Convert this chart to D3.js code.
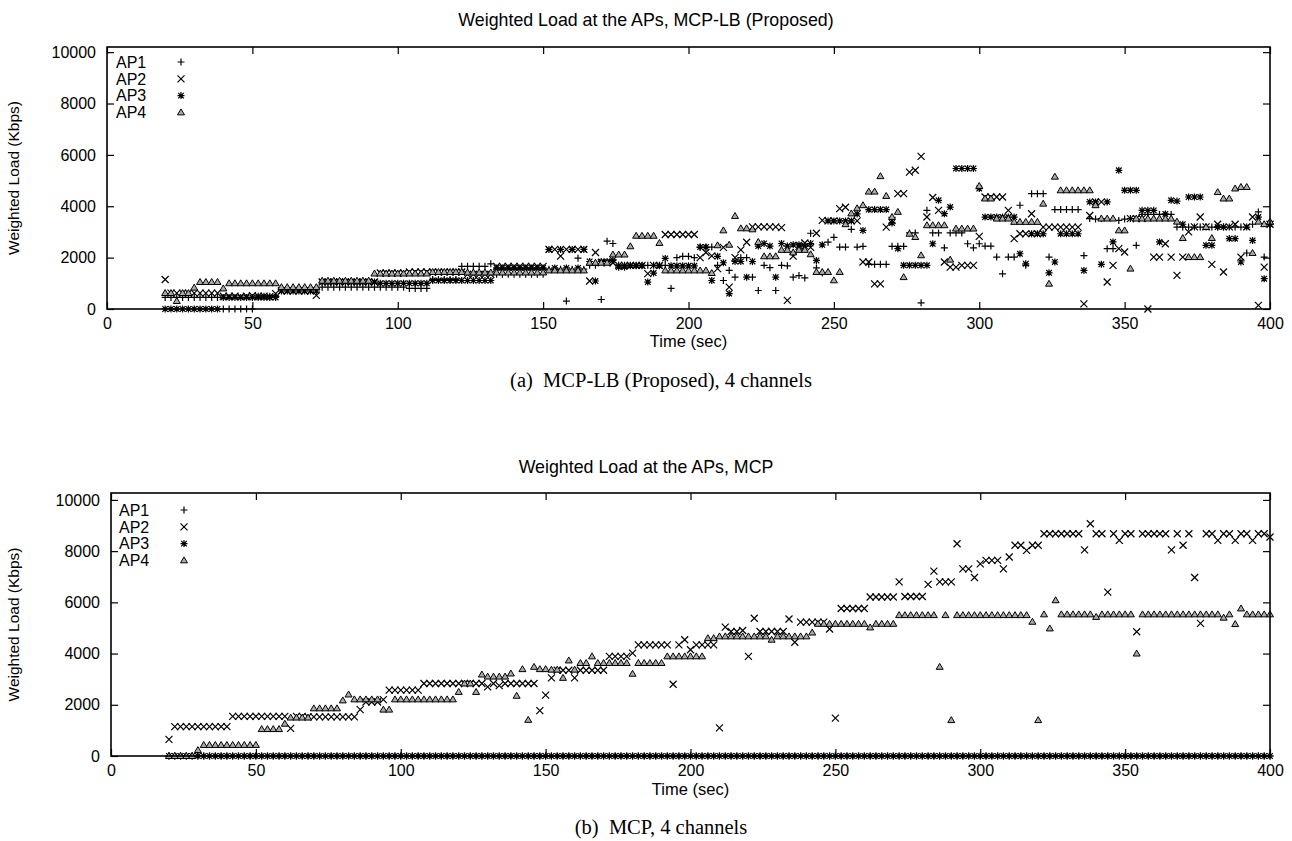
<!DOCTYPE html>
<html>
<head>
<meta charset="utf-8">
<script src="https://cdn.jsdelivr.net/npm/d3@7/dist/d3.min.js"></script>
<style>
  body { margin: 0; background: #fff; }
  svg text { font-family: "Liberation Sans", Arial, sans-serif; fill: #000; }
  svg text.caption { font-family: "Liberation Serif", "Times New Roman", serif; white-space: pre; }
</style>
</head>
<body>
<svg id="chart" width="1292" height="841"></svg>
<script>

// one reading every 2 s, first reading at t = 20 s
var t0 = 20, dt = 2;

var xTicks = [0, 50, 100, 150, 200, 250, 300, 350, 400];
var yTicks = [0, 2000, 4000, 6000, 8000, 10000];
var apNames = ["AP1", "AP2", "AP3", "AP4"];

// (a) MCP-LB (Proposed) -- weighted load in Kbps
var lbAP1 = [
  450,450,450,450,450,450,450,450,450,450,
  0,0,0,0,0,0,500,500,500,500,
  800,800,800,800,800,800,800,850,850,850,
  850,850,850,850,850,850,850,850,850,850,
  850,850,800,800,800,800,1150,1150,1150,1150,
  1150,1660,1660,1660,1660,1660,1760,1350,1350,1350,
  1350,1350,1350,1350,1350,1350,1550,1550,1550,310,
  1550,1980,1550,1700,1700,370,2640,2550,1700,1700,
  1700,1700,1700,1700,1700,1700,1700,800,2000,2050,
  2050,2000,2400,2400,2410,1700,1110,1500,1240,2000,
  2000,1240,720,1700,1610,720,1700,1680,1240,1300,
  1210,2950,1600,1400,2600,2790,2410,2410,3100,2410,
  2440,1740,1740,1740,1740,2440,2440,2440,2960,2960,
  240,3840,2960,2960,2380,2960,2960,2960,2540,2380,
  2540,2450,2450,2020,1370,2020,2020,4040,1700,4490,
  4490,4490,2020,3870,3870,3870,3870,3870,2080,3520,
  3500,3520,2350,2350,3450,3500,3520,2480,3680,3680,
  3680,3680,3680,3680,3190,3190,3190,3190,3190,3190,
  3190,3190,3190,3190,3190,3190,2180,3300,3780,2020,
  3300
];
var lbAP2 = [
  1150,620,620,620,620,620,620,620,620,620,
  500,500,500,480,500,520,500,500,480,600,
  700,700,700,700,700,700,530,1050,1050,1050,
  1050,1050,1050,1050,1050,1050,1050,1400,1400,1400,
  1400,1400,1440,1440,1440,1440,1440,1440,1440,1440,
  1440,1440,1350,1350,1350,1350,1350,1660,1660,1660,
  1660,1660,1660,1660,1660,1660,2320,2320,2060,2320,
  2320,2320,2320,1090,2200,1800,1800,1800,1700,1700,
  1700,1700,1700,1380,1700,1700,2900,2900,2900,2900,
  2900,2900,2000,2200,2070,1570,2400,850,2000,2300,
  2600,3200,3200,3200,3200,3200,3170,335,2060,2440,
  2570,2400,2950,3450,3430,3430,3910,3960,3430,3430,
  1830,1830,980,980,3190,3450,4490,4490,5330,5400,
  5940,3580,4340,3840,1830,1630,1630,1700,1700,1700,
  2830,4360,4360,4360,4360,3840,2740,2930,2930,3710,
  2930,3190,3190,3190,3190,3190,3190,3190,200,3640,
  4170,4170,1050,1700,2350,2220,3520,3520,3520,0,
  2020,2020,2540,2020,1310,2020,3000,3200,3580,3200,
  1740,3300,1440,3200,3300,2020,3200,3580,140,1630,
  3300
];
var lbAP3 = [
  0,0,0,0,0,0,0,0,0,0,
  450,450,450,450,450,450,450,450,450,450,
  700,700,700,700,700,700,700,1050,1050,1050,
  1050,1050,1050,1050,1050,1050,1050,1000,1000,1000,
  1000,1000,1000,1000,1000,1000,1110,1110,1110,1110,
  1110,1110,1110,1110,1110,1110,1110,1600,1600,1600,
  1600,1600,1600,1600,1600,1600,2320,1600,2320,1600,
  2320,1600,2320,1850,1090,1850,1850,1900,1630,1630,
  1680,1680,1680,1050,1400,1680,1970,1680,1680,1680,
  1680,1680,2410,2410,1110,2050,1800,600,1850,1850,
  1240,1850,2450,2550,2450,1240,2550,2450,2500,2500,
  2450,2550,1890,2500,3430,3430,3430,3430,3430,3700,
  3060,3870,3870,3870,3870,3350,2350,1700,1700,1700,
  1700,1700,2540,4230,3710,3970,5470,5470,5470,5470,
  4690,3580,3580,3580,3580,3580,3580,2150,1760,2930,
  2930,2930,1410,1830,2930,2930,2930,2930,1500,4170,
  4170,1740,4170,2610,5400,4620,4620,4620,3840,3840,
  3840,2610,3700,4230,4200,3300,4360,4360,4360,2480,
  2480,3190,3190,2740,2740,1830,3190,2670,3580,1180,
  3300
];
var lbAP4 = [
  620,620,310,620,620,830,1050,1050,1050,1050,
  800,1000,1000,1000,1000,1000,1000,1000,1000,1000,
  850,850,850,850,850,850,850,1100,1100,1100,
  1100,1100,1100,1100,1100,1100,1380,1380,1380,1380,
  1380,1380,1380,1380,1380,1380,1440,1440,1440,1440,
  1440,1440,1420,1420,1420,1420,1420,1420,1420,1420,
  1420,1420,1420,1420,1420,1420,1500,1500,1500,1500,
  1500,1500,1500,1800,1800,1800,1800,2120,2120,2120,
  2440,2850,2850,2850,2850,2570,1500,1500,1500,1500,
  1500,1500,1500,1500,1400,2480,3060,2500,3620,3140,
  3140,3100,2610,2050,2050,2050,2300,2300,2200,2300,
  2300,2130,1440,1440,1440,1115,1440,3300,3720,3920,
  4040,4570,4570,5170,4400,3580,3780,1240,2930,2800,
  2090,3260,3260,3260,3260,1920,3130,3130,3130,3130,
  4790,4300,4300,3520,3520,3520,3390,3390,3390,3390,
  3390,4100,983,5150,4620,4620,4620,4620,4620,4620,
  4040,3520,3520,3520,3060,3060,1570,3520,3520,3520,
  3520,3520,3520,3520,3400,2760,2020,2020,2020,3190,
  2760,4550,4300,4300,4690,4750,4750,2180,3400,3300,
  3400
];

// (b) MCP -- weighted load in Kbps
var mcpAP1 = [
  0,0,0,0,0,0,0,0,0,0, 0,0,0,0,0,0,0,0,0,0,
  0,0,0,0,0,0,0,0,0,0, 0,0,0,0,0,0,0,0,0,0,
  0,0,0,0,0,0,0,0,0,0, 0,0,0,0,0,0,0,0,0,0,
  0,0,0,0,0,0,0,0,0,0, 0,0,0,0,0,0,0,0,0,0,
  0,0,0,0,0,0,0,0,0,0, 0,0,0,0,0,0,0,0,0,0,
  0,0,0,0,0,0,0,0,0,0, 0,0,0,0,0,0,0,0,0,0,
  0,0,0,0,0,0,0,0,0,0, 0,0,0,0,0,0,0,0,0,0,
  0,0,0,0,0,0,0,0,0,0, 0,0,0,0,0,0,0,0,0,0,
  0,0,0,0,0,0,0,0,0,0, 0,0,0,0,0,0,0,0,0,0,
  0,0,0,0,0,0,0,0,0,0,
  0
];
var mcpAP2 = [
  650,1150,1150,1150,1150,1150,1150,1150,1150,1150,
  1150,1550,1550,1550,1550,1550,1550,1550,1550,1550,
  1550,1080,1550,1550,1530,1530,1530,1530,1530,1530,
  1530,1530,1530,1810,2110,2110,2110,2200,2570,2570,
  2570,2570,2570,2570,2830,2830,2830,2830,2830,2830,
  2830,2830,2830,2830,2830,2700,2830,2750,2830,2830,
  2830,2830,2830,2830,1770,2380,3050,3350,3350,3350,
  3050,3350,3350,3350,3350,3350,3890,3890,3890,3890,
  4020,4340,4340,4340,4340,4340,4340,2800,4340,4540,
  4150,4340,4340,4340,4340,1100,5030,4860,4860,4900,
  3890,5380,4860,4860,4860,4860,4860,5350,4440,5230,
  5230,5230,5230,5230,4960,1480,5760,5760,5760,5760,
  5760,6210,6210,6210,6210,6210,6800,6230,6230,6230,
  6230,6700,7220,6800,6800,6800,8290,7310,7310,6970,
  7500,7640,7640,7640,7310,7770,8230,8230,8030,8230,
  8230,8680,8680,8680,8680,8680,8680,8680,8050,9070,
  8680,8680,6400,8680,8420,8680,8680,4850,8680,8680,
  8680,8680,8680,8050,8680,8230,8680,6970,5180,8680,
  8680,8420,8680,8680,8420,8680,8680,8420,8680,8680,
  8550
];
var mcpAP3 = [
  0,0,0,0,0,0,0,0,0,0, 0,0,0,0,0,0,0,0,0,0,
  0,0,0,0,0,0,0,0,0,0, 0,0,0,0,0,0,0,0,0,0,
  0,0,0,0,0,0,0,0,0,0, 0,0,0,0,0,0,0,0,0,0,
  0,0,0,0,0,0,0,0,0,0, 0,0,0,0,0,0,0,0,0,0,
  0,0,0,0,0,0,0,0,0,0, 0,0,0,0,0,0,0,0,0,0,
  0,0,0,0,0,0,0,0,0,0, 0,0,0,0,0,0,0,0,0,0,
  0,0,0,0,0,0,0,0,0,0, 0,0,0,0,0,0,0,0,0,0,
  0,0,0,0,0,0,0,0,0,0, 0,0,0,0,0,0,0,0,0,0,
  0,0,0,0,0,0,0,0,0,0, 0,0,0,0,0,0,0,0,0,0,
  0,0,0,0,0,0,0,0,0,0,
  0
];
var mcpAP4 = [
  0,0,0,0,0,230,430,430,430,430,
  430,430,430,430,430,430,1050,1050,1050,1050,
  1260,1500,1500,1500,1500,1860,1860,1860,1860,1860,
  2170,2400,2210,2210,2210,2210,2210,1810,1810,2210,
  2210,2210,2210,2210,2210,2210,2210,2210,2210,2210,
  2500,2830,2830,2500,3180,3100,3100,3100,3100,3220,
  2350,3390,1410,3480,3390,3390,3370,3370,3050,3730,
  3370,3630,3630,3890,3630,3630,3630,3630,3630,3630,
  3210,3630,3630,3630,3630,3630,3890,3890,3890,3890,
  3890,3890,3890,4600,4600,4670,4670,4670,4670,4670,
  4670,4670,4670,4670,4540,4670,4670,4670,4670,4670,
  4670,4820,5160,5160,5160,5160,5160,5160,5160,5160,
  5160,5020,5160,5160,5160,5160,5500,5500,5500,5500,
  5500,5500,5500,3480,5500,1400,5500,5500,5500,5500,
  5500,5500,5500,5500,5500,5500,5500,5500,5500,5240,
  1400,5530,4980,6080,5530,5530,5530,5530,5530,5530,
  5430,5530,5530,5530,5530,5530,5530,4000,5530,5530,
  5530,5530,5530,5530,5530,5530,5530,5530,5530,5530,
  5530,5530,5400,5530,5150,5760,5530,5530,5530,5530,
  5530
];

var svg = d3.select("#chart");

// gnuplot style point shapes: +, x, *, open triangle
function markerPath(kind) {
  var s = 3.5;
  if (kind == 0) return "M" + (-s) + ",0H" + s + "M0," + (-s) + "V" + s;
  if (kind == 1) return "M" + (-s) + "," + (-s) + "L" + s + "," + s + "M" + (-s) + "," + s + "L" + s + "," + (-s);
  if (kind == 2) {
    var d = s * 0.8;
    return "M" + (-s) + ",0H" + s + "M0," + (-s) + "V" + s +
           "M" + (-d) + "," + (-d) + "L" + d + "," + d + "M" + (-d) + "," + d + "L" + d + "," + (-d);
  }
  return "M0," + (-s) + "L" + s + "," + (s * 0.7) + "L" + (-s) + "," + (s * 0.7) + "Z";
}

function styleMarker(sel, kind) {
  sel.attr("d", markerPath(kind))
    .attr("stroke", "#000")
    .attr("stroke-width", kind == 3 ? 1 : 1.2)
    .attr("fill", kind == 3 ? "#aaa" : "none");
}

function drawPanel(p) {
  var g = svg.append("g");

  var x = d3.scaleLinear().domain([0, 400]).range([p.left, p.right]);
  var y = d3.scaleLinear().domain([0, p.ymax]).range([p.bottom, p.top]);

  // ticks point inwards and are mirrored on all four sides
  var axes = [
    [d3.axisBottom(x).tickValues(xTicks).tickSize(-7).tickPadding(9), "translate(0," + p.bottom + ")"],
    [d3.axisTop(x).tickValues(xTicks).tickSize(-7).tickFormat(""), "translate(0," + p.top + ")"],
    [d3.axisLeft(y).tickValues(yTicks).tickFormat(d3.format("d")).tickSize(-7).tickPadding(11), "translate(" + p.left + ",0)"],
    [d3.axisRight(y).tickValues(yTicks).tickSize(-7).tickFormat(""), "translate(" + p.right + ",0)"]
  ];
  axes.forEach(function(a) {
    var ax = g.append("g")
      .attr("transform", a[1])
      .call(a[0]);
    ax.select(".domain").remove();
    ax.selectAll("line").attr("stroke", "#000").attr("stroke-width", 1.2);
    ax.selectAll("text")
      .attr("font-family", "Liberation Sans, Arial, sans-serif")
      .attr("font-size", 16);
  });

  // the points, drawn series by series
  p.data.forEach(function(vals, k) {
    g.append("g")
      .selectAll("path")
      .data(vals)
      .enter().append("path")
      .attr("transform", function(d, i) { return "translate(" + x(t0 + i * dt) + "," + y(d) + ")"; })
      .call(styleMarker, k);
  });

  g.append("rect")
    .attr("x", p.left)
    .attr("y", p.top)
    .attr("width", p.right - p.left)
    .attr("height", p.bottom - p.top)
    .attr("fill", "none")
    .attr("stroke", "#000")
    .attr("stroke-width", 1.6);

  // key
  apNames.forEach(function(name, k) {
    var ly = p.legendY + k * 16.8;
    g.append("text")
      .attr("x", p.legendTextX)
      .attr("y", ly)
      .attr("dy", "0.36em")
      .attr("font-size", 16)
      .text(name);
    g.append("path")
      .attr("transform", "translate(" + p.legendMarkX + "," + ly + ")")
      .call(styleMarker, k);
  });

  // title is centred on the whole page, as gnuplot does
  g.append("text")
    .attr("x", 646)
    .attr("y", p.titleY)
    .attr("text-anchor", "middle")
    .attr("font-size", 17.8)
    .text(p.title);

  g.append("text")
    .attr("x", (p.left + p.right) / 2)
    .attr("y", p.xlabelY)
    .attr("text-anchor", "middle")
    .attr("font-size", 16.5)
    .text("Time (sec)");

  g.append("text")
    .attr("transform", "translate(19," + ((p.top + p.bottom) / 2) + ") rotate(-90)")
    .attr("text-anchor", "middle")
    .attr("font-size", 15.5)
    .text("Weighted Load (Kbps)");

  g.append("text")
    .attr("class", "caption")
    .attr("x", 661)
    .attr("y", p.captionY)
    .attr("text-anchor", "middle")
    .attr("font-size", 20.5)
    .text(p.caption);
}

drawPanel({
  left: 107, right: 1270, top: 47, bottom: 309, ymax: 10200,
  title: "Weighted Load at the APs, MCP-LB (Proposed)", titleY: 26,
  xlabelY: 347, caption: "(a)  MCP-LB (Proposed), 4 channels", captionY: 387,
  legendTextX: 116, legendMarkX: 181, legendY: 62,
  data: [lbAP1, lbAP2, lbAP3, lbAP4]
});

drawPanel({
  left: 111, right: 1270, top: 493, bottom: 756, ymax: 10270,
  title: "Weighted Load at the APs, MCP", titleY: 473,
  xlabelY: 795, caption: "(b)  MCP, 4 channels", captionY: 834,
  legendTextX: 119, legendMarkX: 184, legendY: 510,
  data: [mcpAP1, mcpAP2, mcpAP3, mcpAP4]
});

</script>
</body>
</html>
